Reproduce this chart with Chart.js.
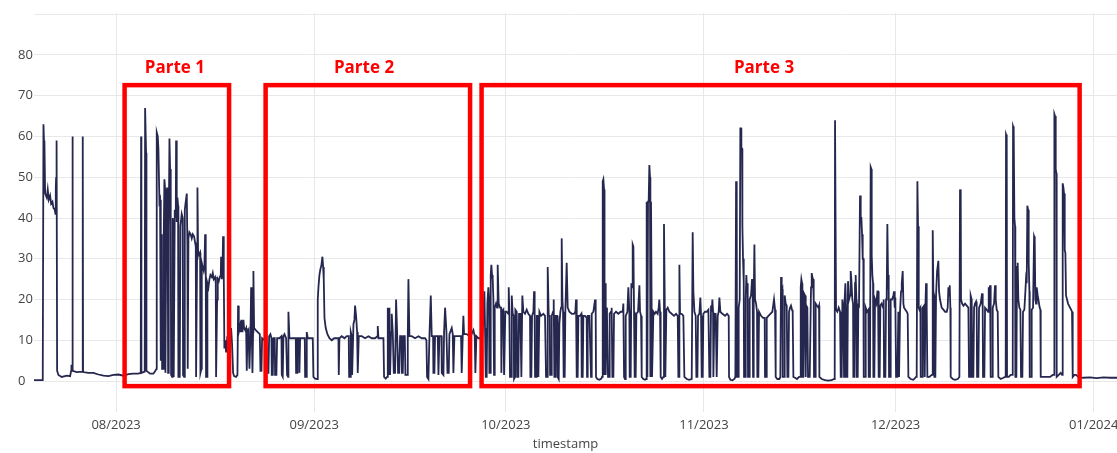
<!DOCTYPE html>
<html>
<head>
<meta charset="utf-8">
<script src="https://cdn.jsdelivr.net/npm/chart.js@4"></script>
<style>
  html, body { margin: 0; padding: 0; background: #ffffff; }
  #wrap { width: 1117px; height: 453px; }
</style>
</head>
<body>
<div id="wrap"><canvas id="c" width="1117" height="453"></canvas></div>
<script>
// ---- DATA (x = days since 2023-08-01, y = value) ----
const segJulAug = [
[-13.0,0.2],[-11.48,0.2],[-11.37,63],[-11.27,58],[-11.22,59],[-11.11,46],[-10.85,45],[-10.70,47],[-10.54,44.5],[-10.33,45.5],[-10.17,43.5],[-9.96,44],[-9.81,42.5],[-9.60,42],[-9.50,41],[-9.44,47],[-9.39,50],[-9.34,41.5],[-9.29,59],[-9.23,2.5],[-9.03,1.5],[-8.50,1.0],[-7.72,1.3],[-7.20,1.2],[-7.04,2.5],[-6.99,4],[-6.89,2.5],[-6.83,60],[-6.78,2.5],[-6.16,2.2],[-5.27,2.3],[-5.22,60],[-5.17,2.2],[-4.33,2.0],[-3.55,2.0],[-2.77,1.6],[-1.98,1.3],[-1.20,1.2],[-0.42,1.5],[0.36,1.6],[1.15,1.3],[1.93,1.7],[2.71,1.8],[3.49,1.8],[3.86,2.0],[3.91,60],[3.96,2.0],[4.28,2.2],[4.48,2.3],[4.54,67],[4.69,56],[4.75,2.5],[5.32,1.8],[5.84,1.8],[6.15,2.5],[6.31,3],[6.36,61],[6.52,60],[6.62,57],[6.78,44],[6.88,44.5],[6.99,5],[7.15,36],[7.20,3],[7.35,3],[7.46,36],[7.56,49.5],[7.67,47],[7.72,2],[7.88,44],[7.98,47.5],[8.08,40],[8.14,2],[8.24,38],[8.35,59.5],[8.45,52],[8.55,38],[8.61,1.5],[8.76,1],[8.87,40],[8.97,35],[9.02,1],[9.18,42],[9.34,40],[9.39,59],[9.49,39],[9.60,45],[9.70,43],[9.75,1],[9.96,1],[10.07,38],[10.27,41],[10.43,40],[10.48,1.5],[10.64,1],[10.75,42],[10.90,44],[11.06,46],[11.16,33],[11.21,3],[11.32,35],[11.47,36.5],[11.68,36],[11.84,35],[12.00,36],[12.20,35.5],[12.36,34],[12.47,33],[12.52,1],[12.62,1],[12.67,30],[12.73,47.5],[12.83,32],[12.99,31],[13.15,31.5],[13.20,2],[13.35,3],[13.41,29],[13.56,28],[13.72,27],[13.82,28],[13.93,36],[14.03,28],[14.08,1],[14.24,1],[14.29,24],[14.45,23],[14.61,25],[14.76,26],[14.97,25.5],[15.13,26.5],[15.28,25],[15.49,25.5],[15.60,24],[15.65,1],[15.75,1],[15.81,20],[15.91,25],[16.07,24.5],[16.22,25.5],[16.38,26],[16.43,30.5],[16.54,25],[16.64,26],[16.74,35.5],[16.85,26],[16.95,8],[17.11,10],[17.21,7],[17.42,11],[17.58,8],[17.73,12],[17.84,10],[18.0,13],[18.15,9],[18.31,2],[18.46,1.2],[18.78,1.0],[18.99,1.5],[19.09,18.5],[19.20,12],[19.40,13.5],[19.51,12],[19.61,15],[19.77,12],[19.93,15],[20.03,13],[20.19,12.5]
];
const segAugSep = [
[20.35,13],[20.45,2.5],[20.56,12],[20.71,12.5],[20.87,3],[21.02,11],[21.13,23],[21.23,12],[21.34,2],[21.44,12],[21.49,27],[21.60,13],[21.86,12.5],[22.17,12],[22.49,11.5],[22.59,2.5],[22.75,2.5],[22.85,10.5],[23.22,10],[23.53,10.5],[23.63,2],[23.84,2],[23.95,11],[24.15,11.5],[24.31,10.5],[24.36,1.5],[24.52,1.5],[24.62,10.5],[24.83,10.5],[24.88,1.5],[25.09,1.5],[25.20,10.5],[25.56,10.5],[25.88,11],[25.93,1.5],[26.08,1],[26.19,11],[26.35,11.5],[26.61,10.5],[26.76,1.5],[26.92,1],[26.97,17],[27.13,10.5],[27.49,10.5],[27.86,10.5],[28.12,10.5],[28.17,2],[28.33,2],[28.38,10.5],[28.64,10.5],[28.69,2],[28.80,10.5],[29.16,10.5],[29.53,10.5],[29.58,1],[29.74,1],[29.84,12],[30.00,10.5],[30.36,10.5],[30.78,10.5],[30.88,1],[31.15,0.6],[31.46,0.5],[31.56,20],[31.67,23],[31.82,26],[31.98,27.5],[32.14,28.5],[32.29,30.5],[32.40,28],[32.50,25],[32.61,15.5],[32.81,13],[33.07,11.5],[33.39,10.5],[33.75,10],[34.12,10.5],[34.53,10.5],[34.80,10.5],[34.85,1.5],[34.95,10.5],[35.32,11],[35.74,10.5],[36.10,11],[36.41,11],[36.47,1],[36.62,1],[36.73,12],[36.88,11],[36.94,1.5],[37.04,1.5],[37.15,14],[37.30,15],[37.40,18.5],[37.56,16],[37.72,12],[37.82,2],[37.98,11],[38.45,11],[38.97,10.5],[39.49,11],[40.01,10.5],[40.53,10.5],[40.90,11],[40.95,13.5],[41.06,10.5],[41.47,10.5],[41.84,10.5],[41.94,1],[42.20,0.6],[42.41,1],[42.52,18],[42.62,1.5],[42.78,18],[42.88,1.5],[43.04,12],[43.14,16.5],[43.30,12],[43.46,2],[43.66,2],[43.82,20],[43.98,12],[44.13,2],[44.29,2],[44.45,11],[44.66,11],[44.71,2],[44.87,2],[44.97,11],[45.18,11],[45.28,1.5],[45.54,1.5],[45.65,11],[45.75,25],[45.91,11],[46.27,11],[46.79,10.5],[47.32,11],[47.84,10.5],[48.36,10.5],[48.57,10],[48.67,1],[48.88,0.5],[49.04,11],[49.25,21],[49.40,11],[49.61,11],[49.66,2],[49.82,2],[49.92,11],[50.34,11],[50.45,1.5],[50.60,11],[50.92,11],[50.97,2],[51.23,1.5],[51.33,12],[51.49,18],[51.70,12],[51.86,2],[52.06,2],[52.17,11.5],[52.53,13],[52.69,11.5],[52.79,2],[52.95,11],[53.32,11],[53.58,11],[53.84,11]
];
const segSepOct = [
[53.99,11],[54.09,2],[54.25,11],[54.35,16],[54.46,11.5],[54.87,11.5],[55.29,11],[55.50,11],[55.92,12.5],[56.13,11],[56.23,2],[56.39,11],[56.70,10.5],[56.96,10.5],[57.27,10],[57.48,15],[57.64,22],[57.74,13],[57.85,1],[58.0,1],[58.11,19],[58.26,23],[58.37,20],[58.42,2],[58.52,2],[58.63,26],[58.73,28.5],[58.84,26],[58.94,25],[59.05,20],[59.15,1.5],[59.26,18],[59.46,19],[59.62,18],[59.72,28.5],[59.88,19],[60.09,18],[60.25,18],[60.30,2],[60.40,17],[60.61,17.5],[60.72,1.5],[60.92,17],[61.13,17],[61.39,16.5],[61.45,23],[61.55,16.5],[61.65,1],[61.81,1],[61.92,21],[62.07,16.5],[62.23,16],[62.28,0.5],[62.44,1],[62.49,17.5],[62.70,17],[62.80,1],[62.96,1],[63.06,16.5],[63.27,16.5],[63.43,1],[63.58,21],[63.74,17],[64.0,16.5],[64.26,17.5],[64.52,16.5],[64.78,16],[64.84,1],[64.99,1],[65.10,16],[65.31,17],[65.41,22],[65.51,16],[65.57,1],[65.72,1],[65.83,16],[66.04,16],[66.09,1],[66.25,17],[66.51,16],[66.87,16.5],[67.13,16],[67.29,1],[67.45,1],[67.55,28],[67.71,16],[67.86,16],[67.92,1.5],[68.07,1.5],[68.18,16],[68.39,17],[68.49,20],[68.59,1],[68.70,1],[68.80,16],[69.01,16],[69.11,1],[69.27,0.5],[69.38,14],[69.53,17],[69.64,18],[69.74,35],[69.85,20],[69.95,17],[70.05,1],[70.21,1],[70.31,17],[70.52,29],[70.68,18],[70.94,17],[71.31,16.5],[71.67,16.5],[71.88,17],[71.98,20],[72.09,1],[72.24,1],[72.35,16],[72.61,16],[72.82,16.5],[72.87,1],[73.03,1],[73.13,16],[73.39,16],[73.65,15.5],[73.71,1],[73.81,16],[74.07,16],[74.33,1],[74.44,16.5],[74.70,17],[74.96,20],[75.06,17],[75.11,1],[75.32,0.5],[75.64,0.3],[75.95,0.6],[76.05,1],[76.16,49],[76.26,49.5],[76.37,47],[76.42,36],[76.47,1.5],[76.57,24],[76.63,1.5],[76.73,18],[76.83,16],[76.99,1],[77.15,1],[77.25,16.5],[77.46,17],[77.56,18],[77.67,1],[77.83,1],[77.93,16.5],[78.24,17],[78.61,16.5],[78.97,17],[79.29,17],[79.39,19],[79.50,1],[79.65,0.5],[79.76,16],[80.02,17],[80.17,23],[80.33,17],[80.38,1],[80.54,1],[80.64,24],[80.75,23],[80.85,33.5],[80.96,33],[81.06,17],[81.16,1],[81.32,1],[81.43,16.5],[81.69,17],[81.90,23.5],[82.0,17],[82.16,16],[82.26,1],[82.52,0.5],[82.78,0.3],[82.94,0.5],[83.04,44],[83.15,1],[83.25,44],[83.36,45],[83.46,53],[83.56,50],[83.62,1],[83.72,44],[83.83,44],[83.88,1],[83.98,1],[84.09,17],[84.30,16.5],[84.50,17],[84.76,16.5],[84.92,18],[85.02,20],[85.13,17],[85.23,1],[85.44,0.5],[85.65,1],[85.75,38.5],[85.86,21],[85.96,1],[86.12,17.5],[86.33,18],[86.59,17],[86.95,16.5],[87.32,16],[87.64,16.5],[87.90,16]
];
const segOctNov = [
[88.0,1],[88.11,1],[88.16,28.5],[88.26,16.5],[88.52,16.5],[88.78,16],[88.94,1],[89.31,0.5],[89.67,0.3],[90.09,0.5],[90.24,36.5],[90.35,22],[90.51,17],[90.71,16],[90.82,1],[90.98,1],[91.08,16],[91.29,16.5],[91.44,20.5],[91.55,16],[91.65,1],[91.81,1],[91.91,16.5],[92.17,17],[92.44,17],[92.70,17.5],[92.85,1],[93.01,1],[93.11,18.5],[93.22,17],[93.32,20],[93.43,17],[93.48,1],[93.64,16.5],[93.84,16.5],[94.00,1],[94.16,16],[94.31,17],[94.42,20.5],[94.57,17],[94.89,16.5],[95.30,16],[95.62,16.5],[95.88,16],[95.93,1],[96.14,0.3],[96.45,0.2],[96.77,0.5],[96.92,1],[97.03,49],[97.13,48],[97.18,1],[97.34,1],[97.44,18],[97.60,20],[97.70,62],[97.81,62],[97.86,57],[97.97,57],[98.02,38],[98.12,30],[98.23,24],[98.28,1],[98.43,1],[98.54,20],[98.64,26],[98.75,22],[98.85,24],[98.90,1],[99.06,1],[99.16,20],[99.37,21],[99.53,25],[99.63,22],[99.69,1],[99.79,20],[99.90,33.5],[100.0,20],[100.16,19],[100.31,17],[100.36,1],[100.52,1],[100.63,17],[100.94,16],[101.25,15.5],[101.51,15.5],[101.56,1],[101.72,1],[101.83,15.5],[102.09,16],[102.40,16.5],[102.71,17],[102.97,20],[103.13,17.5],[103.23,1],[103.49,0.5],[103.81,0.5],[103.96,1],[104.07,25.5],[104.17,22],[104.28,22.5],[104.33,1],[104.54,1],[104.64,21],[104.80,19],[104.96,18.5],[105.06,1],[105.22,1],[105.32,17],[105.48,18],[105.63,18.5],[105.79,17.5],[105.89,17],[106.0,1],[106.26,0.8],[106.57,0.5],[106.89,1],[107.04,1],[107.15,23],[107.25,25],[107.36,24],[107.41,1],[107.56,1],[107.67,21.5],[107.82,21],[107.93,1],[108.03,18.5],[108.19,18],[108.29,1],[108.56,1],[108.76,23],[108.87,26.5],[108.97,25.5],[109.08,25],[109.18,20],[109.23,1],[109.39,1],[109.49,19],[109.70,18.5],[109.91,18],[110.02,18.5],[110.07,1],[110.43,0.5],[110.95,0.2],[111.48,0.1],[112.0,0.2],[112.36,0.5],[112.47,1],[112.52,64],[112.62,64],[112.68,17.5],[112.88,17],[113.09,18],[113.30,17],[113.41,1],[113.56,1],[113.67,20],[113.82,18],[113.93,1],[114.03,20],[114.14,24],[114.24,18],[114.29,1],[114.45,1],[114.55,24.5],[114.71,20],[114.87,21],[114.97,27],[115.07,25],[115.23,20],[115.34,19],[115.39,1],[115.55,1],[115.65,24],[115.75,26],[115.86,20],[115.91,1],[116.07,1],[116.17,19],[116.27,18],[116.43,45.5],[116.54,40],[116.64,40],[116.75,36],[116.85,30],[116.95,30],[117.01,1],[117.21,1],[117.32,18],[117.53,17],[117.74,17.5],[117.79,1],[117.99,1],[118.10,52.5],[118.21,52],[118.26,31],[118.36,26],[118.47,24],[118.52,1],[118.67,1],[118.78,20],[118.99,19],[119.15,22],[119.25,22],[119.35,1],[119.51,1],[119.61,18.5],[119.82,19],[120.03,18],[120.13,20],[120.19,1],[120.40,1],[120.50,20],[120.61,22],[120.71,38.5],[120.81,26],[120.92,22],[120.97,1],[121.13,1],[121.23,20],[121.44,20],[121.65,21],[121.75,22]
];
const segNovJan = [
[121.86,18],[121.96,20.5],[122.07,1],[122.28,1],[122.43,17],[122.54,1],[122.69,17],[122.85,22],[122.96,24],[123.11,27],[123.22,19],[123.32,18],[123.53,17.5],[123.74,17],[123.89,16.5],[124.0,1],[124.36,0.5],[124.78,0.3],[125.20,1],[125.30,1.5],[125.41,49],[125.51,38],[125.62,18],[125.72,17.5],[125.88,18],[125.93,1],[126.14,1],[126.24,18],[126.45,18.5],[126.56,1],[126.66,18],[126.76,24],[126.87,17.5],[126.97,1],[127.29,1],[127.65,1.5],[127.76,1.5],[127.81,37],[127.91,22],[128.02,21],[128.07,1],[128.22,1],[128.33,21],[128.49,27],[128.59,27],[128.69,29.5],[128.80,22],[128.95,20],[129.21,18],[129.48,17.5],[129.74,17],[130.0,17],[130.15,18],[130.26,23],[130.36,21],[130.47,23.5],[130.57,18],[130.62,1],[130.94,0.5],[131.30,0.3],[131.72,0.5],[131.98,1],[132.08,47],[132.19,46],[132.24,20],[132.40,19],[132.61,18.5],[132.87,19],[133.13,18.5],[133.39,18],[133.49,1],[133.65,1],[133.75,21],[133.91,20],[134.01,1],[134.17,1],[134.28,18],[134.43,19],[134.59,19.5],[134.69,18],[134.75,1],[134.95,1],[135.06,18],[135.32,19],[135.53,21.5],[135.63,18],[135.68,1],[135.89,1],[136.0,18],[136.26,17.5],[136.47,17],[136.57,23],[136.68,22],[136.78,23.5],[136.88,1],[137.09,1],[137.20,18],[137.41,19],[137.56,23.5],[137.67,20],[137.82,17.5],[137.98,17],[138.08,1],[138.45,0.5],[138.87,0.8],[139.13,1],[139.23,1.5],[139.28,60.5],[139.39,60],[139.44,1],[139.70,1],[140.01,1.5],[140.33,1.5],[140.38,62.5],[140.48,62],[140.59,40],[140.69,38],[140.74,1],[140.90,1],[141.0,28],[141.11,29],[141.21,20],[141.37,18],[141.53,17.5],[141.63,1],[141.84,1],[141.94,17],[142.15,17.5],[142.31,22],[142.41,25],[142.52,24],[142.62,43],[142.73,42],[142.83,29],[142.94,22],[142.99,1],[143.20,1],[143.30,17.5],[143.51,18],[143.67,35.5],[143.77,35],[143.87,20],[143.98,19],[144.08,23],[144.24,21],[144.40,19.5],[144.55,18],[144.66,17.5],[144.71,1],[145.13,1],[145.65,1],[146.17,1],[146.59,1.5],[146.80,1.5],[146.85,65.5],[146.95,65],[147.06,52],[147.16,51],[147.21,1],[147.53,1.5],[147.84,2],[148.05,1.5],[148.15,48.5],[148.26,47.5],[148.36,46],[148.47,32],[148.57,31.5],[148.67,21],[148.83,20],[148.99,19],[149.14,18.5],[149.30,18],[149.46,17.5],[149.61,17],[149.72,1],[149.98,1.5],[150.24,1.5],[150.60,1],[151.39,0.8],[152.43,0.9],[153.47,0.7],[154.52,0.9],[155.56,0.8],[156.65,0.8]
];

const monthTickDays = [0, 31, 61, 92, 122, 153];
const monthTickLabels = ['08/2023', '09/2023', '10/2023', '11/2023', '12/2023', '01/2024'];
const yTickValues = [0, 10, 20, 30, 40, 50, 60, 70, 80, 90];
const yTickShown = [0, 10, 20, 30, 40, 50, 60, 70, 80];
const xTitle = 'timestamp';

// highlighted parts: [startDay, endDay]
const partNames = ['Parte 1', 'Parte 2', 'Parte 3'];
const partStart = [1.33, 23.4, 57.2];
const partEnd = [17.68, 55.4, 150.8];
const partLabelDay = [9.2, 38.8, 101.4];
const partTop = 72.6;
const partBottom = -1.25;
const partLabelValue = 76.8;

const xMin = -12.85, xMax = 156.65;
const yMin = -7.6, yMax = 90.3;

// ---- CHART ----
const series = [].concat(segJulAug, segAugSep, segSepOct, segOctNov, segNovJan)
  .map(p => ({ x: p[0], y: p[1] }));

const partsPlugin = {
  id: 'parts',
  afterDatasetsDraw(chart) {
    const { ctx, scales: { x, y }, chartArea } = chart;
    ctx.save();
    ctx.strokeStyle = '#ff0000';
    ctx.lineWidth = 4.5;
    ctx.fillStyle = '#ff0000';
    ctx.font = 'bold 17px "Open Sans"';
    ctx.textAlign = 'center';
    ctx.textBaseline = 'middle';
    partNames.forEach((name, i) => {
      const l = x.getPixelForValue(partStart[i]);
      const r = x.getPixelForValue(partEnd[i]);
      const t = y.getPixelForValue(partTop);
      const b = y.getPixelForValue(partBottom);
      ctx.strokeRect(l, t, r - l, b - t);
      ctx.fillText(name, x.getPixelForValue(partLabelDay[i]), y.getPixelForValue(partLabelValue));
    });
    ctx.fillStyle = '#444444';
    ctx.font = '13px "Open Sans"';
    ctx.fillText(xTitle, (chartArea.left + chartArea.right) / 2 - 10, 444);
    ctx.restore();
  }
};

new Chart(document.getElementById('c'), {
  type: 'line',
  data: {
    datasets: [{
      data: series,
      borderColor: '#25274f',
      borderWidth: 1.8,
      pointRadius: 0,
      tension: 0,
      fill: false
    }]
  },
  options: {
    responsive: false,
    animation: false,
    parsing: false,
    normalized: true,
    layout: { padding: { left: 18, top: 13, right: 0, bottom: 0 } },
    plugins: { legend: { display: false }, tooltip: { enabled: false } },
    scales: {
      x: {
        type: 'linear',
        min: xMin, max: xMax,
        afterBuildTicks: s => { s.ticks = monthTickDays.map(v => ({ value: v })); },
        afterFit: s => { s.height = 41; s.paddingLeft = 0; s.paddingRight = 0; },
        ticks: {
          autoSkip: false,
          maxRotation: 0,
          padding: 5,
          color: '#444444',
          font: { family: '"Open Sans"', size: 13 },
          callback: (v) => { const i = monthTickDays.indexOf(v); return i >= 0 ? monthTickLabels[i] : ''; }
        },
        grid: { color: '#e8e8e8', lineWidth: 1, drawTicks: false },
        border: { display: false }
      },
      y: {
        type: 'linear',
        min: yMin, max: yMax,
        afterBuildTicks: s => { s.ticks = yTickValues.map(v => ({ value: v })); },
        afterFit: s => { s.width = 16; s.paddingTop = 0; s.paddingBottom = 0; },
        ticks: {
          crossAlign: 'far',
          padding: 0,
          color: '#444444',
          font: { family: '"Open Sans"', size: 13 },
          callback: (v) => yTickShown.includes(v) ? String(v) : ''
        },
        grid: { color: '#e8e8e8', lineWidth: 1, drawTicks: false },
        border: { display: false }
      }
    }
  },
  plugins: [partsPlugin]
});
</script>
</body>
</html>
